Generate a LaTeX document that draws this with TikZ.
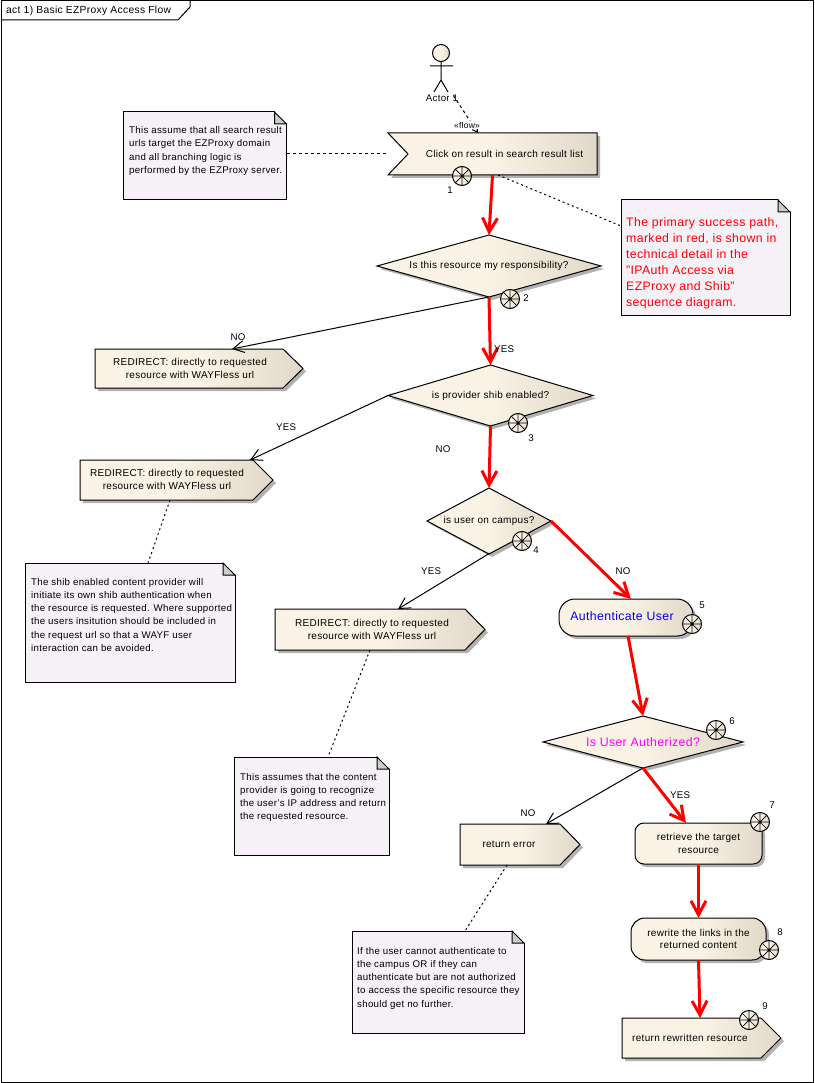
\documentclass[tikz,border=0pt]{standalone}
\usepackage{fontspec}
\setmainfont[LetterSpace=3]{Liberation Sans}
\usetikzlibrary{arrows.meta,shapes.geometric,shadows}
\definecolor{creamA}{HTML}{FAF2E4}
\definecolor{creamB}{HTML}{E0D8C8}
\definecolor{notefill}{HTML}{F5F1F6}
\definecolor{foldgray}{HTML}{CCCCCC}
\definecolor{magentatext}{HTML}{FF00FF}
\tikzset{
  flowfill/.style={draw=black,line width=1pt,left color=creamA,right color=creamB,middle color=creamA,
    drop shadow={shadow xshift=3pt,shadow yshift=-3pt,fill=black!30,opacity=1}},
  dec/.style={flowfill,shape=diamond,aspect=#1,inner sep=0pt,outer sep=0pt},
  act/.style={flowfill,rectangle,inner sep=0pt,outer sep=0pt,align=center},
  ghost/.style={rectangle,inner sep=0pt,outer sep=0pt},
  txt/.style={font=\fontsize{10}{13}\selectfont,align=center,inner sep=0pt},
  note/.style={draw=black,line width=1pt,fill=notefill,rectangle,inner sep=0pt,outer sep=0pt},
  notetxt/.style={font=\fontsize{9.7}{13.2}\selectfont,align=left,anchor=north west,inner sep=0pt},
  rednotetxt/.style={font=\fontsize{12.3}{16}\selectfont,text=red,align=left,anchor=north west,inner sep=0pt},
  main/.style={draw=red,line width=3pt,-{Straight Barb[length=14pt,width=15pt,line width=3pt]}},
  alt/.style={draw=black,line width=1pt,-{Straight Barb[length=11pt,width=12pt,line width=1pt]}},
  notelink/.style={draw=black,line width=1pt,dash pattern=on 2pt off 3pt},
  badge/.style={circle,draw=black,line width=1pt,left color=creamA,right color=creamB,middle color=creamA,minimum size=19pt,inner sep=0pt,outer sep=0pt},
  lbl/.style={font=\fontsize{9.7}{11}\selectfont,inner sep=0pt},
}
% name, x1,y1,x2,y2, text x, text y, text
\newcommand{\pentnode}[8]{%
  \path[flowfill] (#2,#3)--(#4-20,#3)--(#4,{(#3+#5)/2})--(#4-20,#5)--(#2,#5)--cycle;
  \node[ghost,minimum width={#4-#2},minimum height={#5-#3}] (#1) at ({(#2+#4)/2},{(#3+#5)/2}) {};
  \node[txt] (#1-text) at (#6,#7) {#8};
}
% name, x1,y1,x2,y2
\newcommand{\notebox}[5]{%
  \node[note,minimum width={#4-#2},minimum height={#5-#3}] (#1) at ({(#2+#4)/2},{(#3+#5)/2}) {};
  \fill[white] (#4-12,#3-1)--(#4+1,#3-1)--(#4+1,#3+12)--cycle;
  \filldraw[fill=foldgray,draw=black,line width=1pt] (#4-12,#3)--(#4,#3+12)--(#4-12,#3+12)--cycle;
}
% name, x, y, num x, num y, num
\newcommand{\starbadge}[6]{%
  \node[badge] (#1) at (#2,#3) {};
  \draw[line width=.7pt] (#1.north)--(#1.south) (#1.east)--(#1.west) (#1.45)--(#1.225) (#1.135)--(#1.315);
  \fill (#1.center) circle (1.5pt);
  \node[lbl] (#1-num) at (#4,#5) {#6};
}
\begin{document}
\begin{tikzpicture}[x=1pt,y=-1pt]
\useasboundingbox (0,0) rectangle (814,1083);
\fill[white] (0,0) rectangle (814,1083);
% frame
\node[ghost,draw=black,line width=1pt,minimum width=812pt,minimum height=1081pt] (frame) at (407,541.5) {};
\coordinate (tabA) at (1,20);
\coordinate (tabB) at (178,20);
\coordinate (tabC) at (190,7);
\coordinate (tabD) at (190,1);
\draw[line width=1pt] (tabA)--(tabB)--(tabC)--(tabD);
\node[lbl,anchor=west,font=\fontsize{10.3}{11}\selectfont] (title) at (6,10.5) {act 1) Basic EZProxy Access Flow};

% actor
\node[circle,draw=black,line width=1pt,left color=creamA,right color=creamB,middle color=creamA,minimum size=17pt,inner sep=0pt,outer sep=0pt] (head) at (441,53) {};
\coordinate (hip) at (441,80);
\coordinate (armL) at (430,66);
\coordinate (armR) at (453,66);
\coordinate (legL) at (434,92);
\coordinate (legR) at (448,92);
\draw[line width=1pt] (head.south)--(hip)--(legL) (hip)--(legR) (armL)--(armR);
\node[lbl] (actor) at (442,98.5) {Actor 1};

% activities
\path[flowfill] (388,133)--(597,133)--(597,175)--(388,175)--(408,154)--cycle;
\node[ghost,minimum width=209pt,minimum height=42pt] (click) at (492.5,154) {};
\node[txt] (click-text) at (504.5,154) {Click on result in search result list};

\node[dec=3.6,minimum width=224pt,minimum height=62pt,font=\fontsize{10}{11}\selectfont] (d1) at (489,266) {Is this resource my responsibility?};
\node[dec=3.4,minimum width=205pt,minimum height=61pt,font=\fontsize{10}{11}\selectfont] (d2) at (490.5,395.5) {is provider shib enabled?};
\node[dec=1.9,minimum width=124pt,minimum height=66pt,font=\fontsize{10}{11}\selectfont] (d3) at (489,521) {is user on campus?};
\node[dec=3.8,minimum width=200pt,minimum height=52pt,font=\fontsize{12.3}{14}\selectfont,text=magentatext] (d4) at (643,742) {Is User Autherized?};

\pentnode{r1}{95}{349}{303}{388}{190}{368}{REDIRECT: directly to requested\\resource with WAYFless url}
\pentnode{r2}{80}{460}{273}{500}{167}{479}{REDIRECT: directly to requested\\resource with WAYFless url}
\pentnode{r3}{275}{609}{485}{650}{372}{629}{REDIRECT: directly to requested\\resource with WAYFless url}
\pentnode{err}{460}{824}{580}{865}{509}{844}{return error}
\pentnode{ret}{622}{1018}{781}{1058}{690}{1038}{return rewritten resource}

\node[act,rounded corners=16pt,minimum width=134pt,minimum height=37pt,font=\fontsize{12.3}{14}\selectfont,text=blue] (auth) at (626,617.5) {\hspace{-8pt}\raisebox{2pt}{Authenticate User}};
\node[act,rounded corners=9pt,minimum width=127pt,minimum height=41pt,font=\fontsize{10}{13}\selectfont] (get) at (698.5,843.5) {\raisebox{-1.5pt}{retrieve the target}\\\raisebox{-1.5pt}{resource}};
\node[act,rounded corners=14pt,minimum width=135pt,minimum height=42pt,font=\fontsize{10}{12.5}\selectfont] (rewrite) at (698.5,939) {rewrite the links in the\\returned content};

% notes
\notebox{n1}{123.5}{112}{286.5}{200}
\node[notetxt] (n1-text) at (129,126.5) {This assume that all search result\\urls target the EZProxy domain\\and all branching logic is\\performed by the EZProxy server.};
\notebox{nr}{621}{200}{790}{315}
\node[rednotetxt] (nr-text) at (626,217) {The primary success path,\\marked in red, is shown in\\technical detail in the\\"IPAuth Access via\\EZProxy and Shib"\\sequence diagram.};
\notebox{n2}{25}{563}{235}{682}
\node[notetxt] (n2-text) at (31,578) {The shib enabled content provider will\\initiate its own shib authentication when\\the resource is requested. Where supported\\the users insitution should be included in\\the request url  so that a WAYF user\\interaction can be avoided.};
\notebox{n3}{234}{757}{389}{855}
\node[notetxt] (n3-text) at (240,773) {This assumes that the content\\provider is going to recognize\\the user's IP address and return\\the requested resource.};
\notebox{n4}{352}{931}{524}{1033}
\node[notetxt] (n4-text) at (357,947) {If the user cannot authenticate to\\the campus OR if they can\\authenticate but are not authorized\\to access the specific resource they\\should get no further.};

% note links
\draw[line width=1pt,dash pattern=on 3pt off 3pt] ([yshift=2pt]n1.east)--(click.west);
\draw[notelink] ([xshift=5.5pt]click.south)--([yshift=31.5pt]nr.west);
\draw[notelink] ([xshift=-6.5pt]r2.south)--([xshift=18pt]n2.north);
\draw[notelink] ([xshift=-10pt]r3.south)--([xshift=16.5pt]n3.north);
\draw[notelink] ([xshift=-13pt]err.south)--([xshift=27pt]n4.north);

% actor flow
\draw[line width=1pt,dash pattern=on 3pt off 3pt,-{Straight Barb[length=5pt,width=6pt,line width=1pt]}] ([xshift=-5pt,yshift=3pt]actor.east)--([xshift=-14.5pt]click.north);
\node[lbl,fill=white,inner sep=1pt,font=\fontsize{8.5}{9}\selectfont] (flow) at (467,125) {«flow»};

% alternative flows
\draw[alt] (d1.south)--([xshift=33pt]r1.north);
\draw[alt] (d2.west)--([xshift=73.5pt]r2.north);
\draw[alt] ([xshift=1pt,yshift=1pt]d3.south)--([xshift=18pt]r3.north);
\draw[alt] (d4.south)--([xshift=26pt]err.north);

% main path
\draw[main] (click.south)--(d1.north);
\draw[main] (d1.south)--(d2.north);
\draw[main] (d2.south)--(d3.north);
\draw[main] (d3.east)--([xshift=5pt]auth.north);
\draw[main] ([xshift=2pt]auth.south)--(d4.north);
\draw[main] (d4.south)--([xshift=-12.5pt]get.north);
\draw[main] (get.south)--(rewrite.north);
\draw[main] (rewrite.south)--([xshift=-1.5pt]ret.north);

% badges
\starbadge{b1}{462}{176}{450}{190}{1}
\starbadge{b2}{510}{299}{526}{298}{2}
\starbadge{b3}{518}{423}{531}{438}{3}
\starbadge{b4}{522}{541}{536}{550}{4}
\starbadge{b5}{692}{624}{702}{605}{5}
\starbadge{b6}{716}{730}{732}{721}{6}
\starbadge{b7}{760}{822}{772}{805}{7}
\starbadge{b8}{769}{950}{780}{932}{8}
\starbadge{b9}{749}{1020}{765}{1006}{9}

% labels
\node[lbl] (l1) at (238,337) {NO};
\node[lbl] (l2) at (504,349) {YES};
\node[lbl] (l3) at (286,427) {YES};
\node[lbl] (l4) at (443,449) {NO};
\node[lbl] (l5) at (431,571) {YES};
\node[lbl] (l6) at (623,571) {NO};
\node[lbl] (l7) at (528,813) {NO};
\node[lbl] (l8) at (680,795) {YES};
\end{tikzpicture}
\end{document}
